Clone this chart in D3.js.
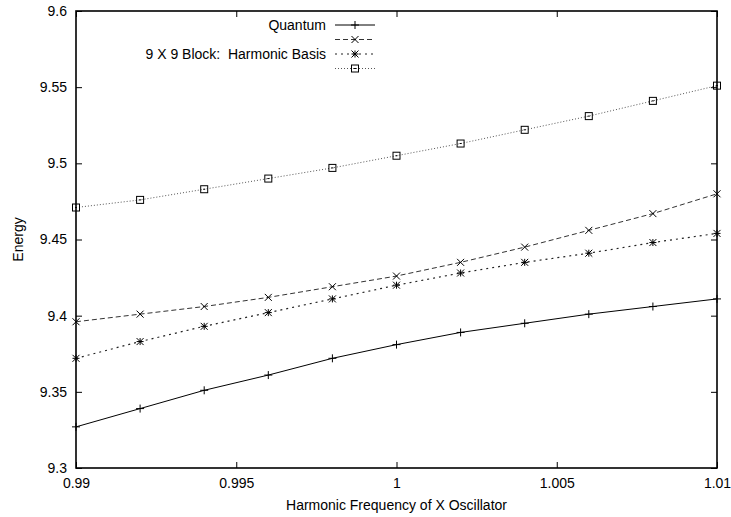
<!DOCTYPE html>
<html>
<head>
<meta charset="utf-8">
<script src="https://cdnjs.cloudflare.com/ajax/libs/d3/7.8.5/d3.min.js"></script>
<style>
  body { margin: 0; background: #fff; }
  svg text { font-family: "Liberation Sans", Arial, sans-serif; font-size: 14px; fill: #000; white-space: pre; }
</style>
</head>
<body>
<div class="canvas"></div>
<script>
// data
const freq = [0.99, 0.992, 0.994, 0.996, 0.998, 1.0, 1.002, 1.004, 1.006, 1.008, 1.01];
const quantum = [9.327, 9.339, 9.351, 9.361, 9.372, 9.381, 9.389, 9.395, 9.401, 9.406, 9.411];
const crossSeries = [9.396, 9.401, 9.406, 9.412, 9.419, 9.426, 9.435, 9.445, 9.456, 9.467, 9.480];
const starSeries = [9.372, 9.383, 9.393, 9.402, 9.411, 9.420, 9.428, 9.435, 9.441, 9.448, 9.454];
const squareSeries = [9.471, 9.476, 9.483, 9.490, 9.497, 9.505, 9.513, 9.522, 9.531, 9.541, 9.551];
const legendLabels = ['Quantum', '', '9 X 9 Block:  Harmonic Basis', ''];
const xTicks = [0.99, 0.995, 1, 1.005, 1.01];
const yTicks = [9.3, 9.35, 9.4, 9.45, 9.5, 9.55, 9.6];

const margin = { top: 11, right: 14, bottom: 49, left: 76 };
const width = 731, height = 517;
const graphWidth = width - margin.left - margin.right;
const graphHeight = height - margin.top - margin.bottom;

const svg = d3.select('.canvas')
    .append('svg')
    .attr('width', width)
    .attr('height', height);

const graph = svg.append('g')
    .attr('transform', `translate(${margin.left}, ${margin.top})`);

// scales
const x = d3.scaleLinear().domain([0.99, 1.01]).range([0, graphWidth]);
const y = d3.scaleLinear().domain([9.3, 9.6]).range([graphHeight, 0]);

// axes (gnuplot style: ticks inside, mirrored)
const tickLen = 6;
const xAxisGroup = graph.append('g')
    .attr('transform', `translate(0, ${graphHeight})`)
    .call(d3.axisBottom(x).tickValues(xTicks).tickSizeInner(-tickLen).tickSizeOuter(0).tickPadding(10)
        .tickFormat(d => d3.format('')(+d.toFixed(3))));
const xTopGroup = graph.append('g')
    .call(d3.axisTop(x).tickValues(xTicks).tickSizeInner(-tickLen).tickSizeOuter(0).tickFormat(''));
const yAxisGroup = graph.append('g')
    .call(d3.axisLeft(y).tickValues(yTicks).tickSizeInner(-tickLen).tickSizeOuter(0).tickPadding(9)
        .tickFormat(d => d3.format('')(+d.toFixed(2))));
const yRightGroup = graph.append('g')
    .attr('transform', `translate(${graphWidth}, 0)`)
    .call(d3.axisRight(y).tickValues(yTicks).tickSizeInner(-tickLen).tickSizeOuter(0).tickFormat(''));

[xAxisGroup, xTopGroup, yAxisGroup, yRightGroup].forEach(g => {
    g.select('.domain').remove();
    g.selectAll('line').attr('stroke', '#000').attr('stroke-width', 1);
    g.selectAll('text').attr('font-family', null).attr('font-size', null);
});

// frame
graph.append('rect')
    .attr('width', graphWidth)
    .attr('height', graphHeight)
    .attr('fill', 'none')
    .attr('stroke', '#000')
    .attr('stroke-width', 1.6);

// markers
function plus(sel, s) {
    sel.append('path').attr('d', `M${-s},0H${s}M0,${-s}V${s}`);
}
function cross(sel, s) {
    sel.append('path').attr('d', `M${-s},${-s}L${s},${s}M${-s},${s}L${s},${-s}`);
}
function star(sel, s) {
    sel.append('path').attr('d', `M${-s},0H${s}M0,${-s}V${s}M${-s},${-s}L${s},${s}M${-s},${s}L${s},${-s}`);
}
function square(sel, s) {
    sel.append('rect').attr('x', -s).attr('y', -s).attr('width', 2 * s).attr('height', 2 * s);
    sel.append('path').attr('d', 'M-1,0H1');
}

const series = [
    { values: quantum, dash: null, color: '#000', width: 1, marker: plus, size: 4 },
    { values: crossSeries, dash: '5,3', color: '#333', width: 1, marker: cross, size: 3.5 },
    { values: starSeries, dash: '2,4', color: '#222', width: 1.2, marker: star, size: 3.5 },
    { values: squareSeries, dash: '1,2', color: '#555', width: 1, marker: square, size: 3.5 }
];

const line = d3.line()
    .x((d, i) => x(freq[i]))
    .y(d => y(d));

series.forEach(s => {
    graph.append('path')
        .datum(s.values)
        .attr('fill', 'none')
        .attr('stroke', s.color)
        .attr('stroke-width', s.width)
        .attr('stroke-dasharray', s.dash)
        .attr('d', line);

    graph.selectAll(null)
        .data(s.values)
        .enter()
        .append('g')
        .attr('transform', (d, i) => `translate(${x(freq[i])}, ${y(d)})`)
        .attr('fill', 'none')
        .attr('stroke', '#000')
        .attr('stroke-width', 1)
        .each(function () { s.marker(d3.select(this), s.size); });
});

// legend
const legend = svg.append('g');
const legendY = [25, 39.5, 54, 68.5];
series.forEach((s, i) => {
    const row = legend.append('g').attr('transform', `translate(0, ${legendY[i]})`);
    row.append('text')
        .attr('x', 326)
        .attr('y', 5)
        .attr('text-anchor', 'end')
        .text(legendLabels[i]);
    row.append('line')
        .attr('x1', 335).attr('x2', 375)
        .attr('stroke', s.color)
        .attr('stroke-width', s.width)
        .attr('stroke-dasharray', s.dash);
    row.append('g')
        .attr('transform', 'translate(355, 0)')
        .attr('fill', 'none')
        .attr('stroke', '#000')
        .each(function () { s.marker(d3.select(this), s.size); });
});

// axis labels
svg.append('text')
    .attr('x', margin.left + graphWidth / 2)
    .attr('y', 510)
    .attr('text-anchor', 'middle')
    .text('Harmonic Frequency of X Oscillator');

svg.append('text')
    .attr('transform', `translate(23, ${margin.top + graphHeight / 2}) rotate(-90)`)
    .attr('text-anchor', 'middle')
    .text('Energy');
</script>
</body>
</html>
